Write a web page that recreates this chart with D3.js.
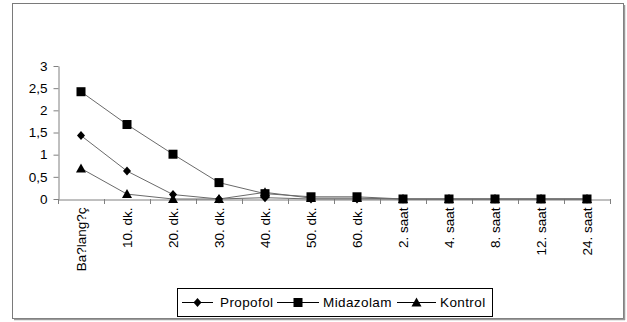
<!DOCTYPE html>
<html><head><meta charset="utf-8">
<script src="https://cdn.jsdelivr.net/npm/d3@7"></script>
<style>body{margin:0;background:#fff}svg{display:block}text{font-family:"Liberation Sans",Arial,sans-serif;fill:#000}</style>
</head><body><svg id="c" width="627" height="322"></svg>
<script>
const categories = ["Ba?lang?ç","10. dk.","20. dk.","30. dk.","40. dk.","50. dk.","60. dk.","2. saat","4. saat","8. saat","12. saat","24. saat"];
const propofol  = [1.43,0.63,0.10,0,0.03,0,0,0,0,0,0,0];
const midazolam = [2.42,1.68,1.01,0.37,0.12,0.05,0.05,0,0,0,0,0];
const kontrol   = [0.69,0.11,0,0,0.15,0.02,0.02,0,0,0,0,0];
const yTicks = [0,0.5,1,1.5,2,2.5,3];
const yTickLabels = ["0","0,5","1","1,5","2","2,5","3"];
const seriesNames = ["Propofol","Midazolam","Kontrol"];

const svg = d3.select("#c");
// frame
svg.append("rect").attr("x",12.5).attr("y",3.5).attr("width",611).attr("height",315)
  .attr("fill","#fff").attr("stroke","#7a7a7a").attr("stroke-width",1);
svg.append("line").attr("x1",624.5).attr("x2",624.5).attr("y1",5).attr("y2",320).attr("stroke","#9a9a9a").attr("stroke-width",1.5);
svg.append("line").attr("x1",14).attr("x2",625).attr("y1",319.5).attr("y2",319.5).attr("stroke","#9a9a9a").attr("stroke-width",1.5);

const x = d3.scaleBand().domain(categories).range([58,610]).padding(0);
const y = d3.scaleLinear().domain([0,3]).range([199,66]);
const cx = c => x(c) + x.bandwidth()/2;

// y axis
const ya = svg.append("g").attr("transform","translate(58.5,0)")
  .call(d3.axisLeft(y).tickValues(yTicks).tickSize(5).tickSizeOuter(0).tickFormat((d,i)=>yTickLabels[i]));
ya.select(".domain").attr("stroke","#808080");
ya.selectAll(".tick line").attr("stroke","#808080");
ya.selectAll(".tick text").attr("font-size",13.5).attr("x",-11).attr("font-family","Liberation Sans, Arial, sans-serif");

// x axis
const xa = svg.append("g").attr("transform","translate(0,199.5)")
  .call(d3.axisBottom(x).tickSize(0).tickSizeOuter(0));
xa.select(".domain").attr("stroke","#808080");
xa.selectAll(".tick text").attr("font-size",13.5).attr("font-family","Liberation Sans, Arial, sans-serif")
  .attr("transform","rotate(-90)").attr("text-anchor","end").attr("x",-8).attr("y",0).attr("dy","0.35em").attr("dx",0);
// boundary ticks
const bounds = categories.map(c=>x(c)).concat([x(categories[categories.length-1])+x.bandwidth()]);
svg.append("g").selectAll("line").data(bounds).join("line")
  .attr("x1",d=>Math.round(d)+0.5).attr("x2",d=>Math.round(d)+0.5).attr("y1",199).attr("y2",204).attr("stroke","#808080");

const data = [propofol, midazolam, kontrol];
const line = d3.line().x((d,i)=>cx(categories[i])).y(d=>y(d));
data.forEach(s=>{
  svg.append("path").attr("d",line(s)).attr("fill","none").attr("stroke","#6a6a6a").attr("stroke-width",1);
});
function marker(g, type, px, py){
  if(type===0) g.append("path").attr("d",`M${px},${py-4.5}L${px+4},${py}L${px},${py+4.5}L${px-4},${py}Z`).attr("fill","#000");
  else if(type===1) g.append("rect").attr("x",px-4.5).attr("y",py-4.5).attr("width",9).attr("height",9).attr("fill","#000");
  else g.append("path").attr("d",`M${px},${py-5}L${px+5},${py+4}L${px-5},${py+4}Z`).attr("fill","#000");
}
const mg = svg.append("g");
data.forEach((s,k)=>s.forEach((v,i)=>marker(mg,k,cx(categories[i]),y(v))));

// legend
const lg = svg.append("g");
lg.append("rect").attr("x",177.5).attr("y",288.5).attr("width",315).attr("height",28).attr("fill","#fff").attr("stroke","#000");
const items = [{x0:182,x1:213,t:220},{x0:277,x1:319,t:323},{x0:397,x1:436,t:440}];
items.forEach((it,k)=>{
  const ly = 302.5;
  lg.append("line").attr("x1",it.x0).attr("x2",it.x1).attr("y1",ly).attr("y2",ly).attr("stroke","#000");
  marker(lg,k,(it.x0+it.x1)/2,ly);
  lg.append("text").attr("x",it.t).attr("y",ly).attr("dy","0.35em").attr("font-size",13.5).attr("letter-spacing",0.4).text(seriesNames[k]);
});
</script></body></html>
